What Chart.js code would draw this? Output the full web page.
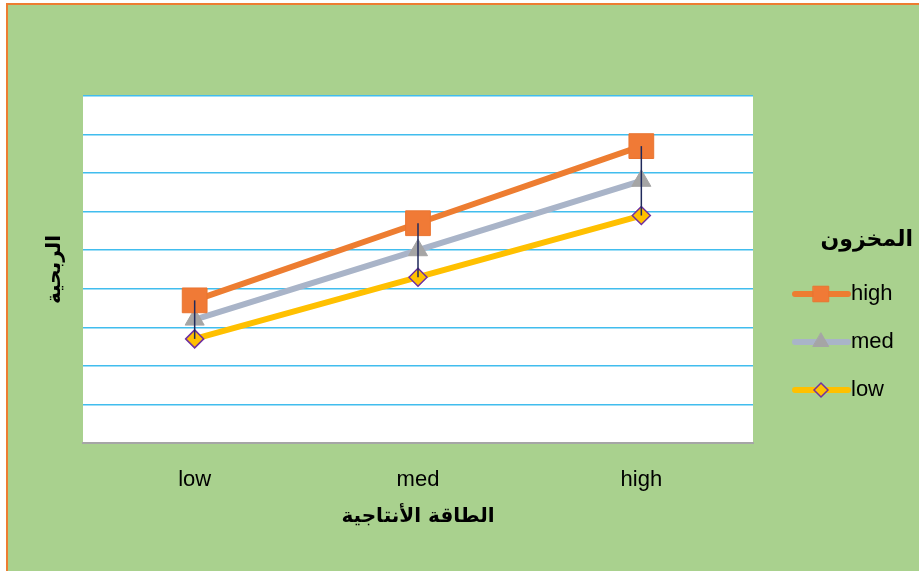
<!DOCTYPE html>
<html>
<head>
<meta charset="utf-8">
<script src="https://cdn.jsdelivr.net/npm/chart.js@4"></script>
<style>
  body { margin: 0; width: 919px; height: 571px; overflow: hidden; position: relative; background: #fff; }
  #frame { position: absolute; left: 6px; top: 3px; right: 0; bottom: 0; background: #a9d18e;
           border-top: 2px solid #ed7d31; border-left: 2px solid #ed7d31; }
  #chart { position: absolute; left: 0; top: 0; }
</style>
</head>
<body>
<div id="frame"></div>
<canvas id="chart" width="919" height="571"></canvas>
<script>
// Data
const categories = ["low", "med", "high"]
const seriesNames = ["high", "med", "low"]
const highValues = [3.7, 5.7, 7.7]
const medValues = [3.2, 5.0, 6.8]
const lowValues = [2.7, 4.3, 5.9]
const yMin = 0
const yMax = 9
const yStep = 1

const xTitle = "الطاقة الأنتاجية"
const yTitle = "الربحية"
const legendTitle = "المخزون"

const arabicFont = "'DejaVu Sans', sans-serif"
const latinFont = "'Liberation Sans', Arial, sans-serif"

// white plot area
const plotBackground = {
  id: "plotBackground",
  beforeDraw(chart) {
    const { ctx, chartArea: a } = chart
    ctx.save()
    ctx.fillStyle = "#ffffff"
    ctx.fillRect(a.left, a.top, a.right - a.left, a.bottom - a.top)
    ctx.restore()
  },
}

// high-low lines between the top and bottom series
const hiLowLines = {
  id: "hiLowLines",
  afterDatasetsDraw(chart) {
    const ctx = chart.ctx
    const top = chart.getDatasetMeta(0).data
    const bottom = chart.getDatasetMeta(2).data
    ctx.save()
    ctx.strokeStyle = "#1f2a5c"
    ctx.lineWidth = 1.5
    top.forEach((p, i) => {
      ctx.beginPath()
      ctx.moveTo(p.x, p.y)
      ctx.lineTo(bottom[i].x, bottom[i].y)
      ctx.stroke()
    })
    ctx.restore()
  },
}

// legend on the right: line + marker + label
const sideLegend = {
  id: "sideLegend",
  afterDraw(chart) {
    const ctx = chart.ctx
    ctx.save()
    ctx.fillStyle = "#000"
    ctx.font = "bold 22px " + arabicFont
    ctx.textAlign = "right"
    ctx.textBaseline = "middle"
    ctx.fillText(legendTitle, 913, 240)

    const rows = [294, 342, 390]
    const sizes = [11, 9, 7]
    chart.data.datasets.forEach((ds, i) => {
      const y = rows[i]
      ctx.strokeStyle = ds.borderColor
      ctx.lineWidth = 6
      ctx.lineCap = "round"
      ctx.beginPath()
      ctx.moveTo(795, y)
      ctx.lineTo(848, y)
      ctx.stroke()
      ctx.fillStyle = ds.pointBackgroundColor
      ctx.strokeStyle = ds.pointBorderColor
      ctx.lineWidth = ds.pointBorderWidth
      Chart.helpers.drawPoint(ctx, { pointStyle: ds.pointStyle, radius: sizes[i], rotation: 0, borderWidth: ds.pointBorderWidth }, 821, y)
      ctx.fillStyle = "#000"
      ctx.font = "22px " + latinFont
      ctx.textAlign = "left"
      ctx.fillText(ds.label, 851, y)
    })
    ctx.restore()
  },
}

const ctx = document.getElementById("chart").getContext("2d")

new Chart(ctx, {
  type: "line",
  data: {
    labels: categories,
    datasets: [
      {
        label: seriesNames[0],
        data: highValues,
        borderColor: "#ed7d31",
        borderWidth: 6,
        pointStyle: "rect",
        pointRadius: 17.5,
        pointBackgroundColor: "#f07a36",
        pointBorderColor: "#e97430",
        pointBorderWidth: 1,
      },
      {
        label: seriesNames[1],
        data: medValues,
        borderColor: "#a9b4c8",
        borderWidth: 6,
        pointStyle: "triangle",
        pointRadius: 11,
        pointBackgroundColor: "#a5a5a5",
        pointBorderColor: "#a5a5a5",
        pointBorderWidth: 1,
      },
      {
        label: seriesNames[2],
        data: lowValues,
        borderColor: "#ffc000",
        borderWidth: 6,
        pointStyle: "rectRot",
        pointRadius: 9,
        pointBackgroundColor: "#ffc000",
        pointBorderColor: "#7030a0",
        pointBorderWidth: 1.5,
      },
    ],
  },
  options: {
    responsive: false,
    animation: false,
    layout: { padding: { left: 0, top: 96, right: 166, bottom: 0 } },
    plugins: {
      legend: { display: false },
      tooltip: { enabled: false },
    },
    scales: {
      x: {
        offset: true,
        afterFit: (s) => { s.height = 128 },
        grid: { display: false, drawTicks: false },
        border: { color: "#a6a6a6", width: 2 },
        ticks: { color: "#000", padding: 24, font: { family: latinFont, size: 22 } },
        title: {
          display: true,
          text: xTitle,
          color: "#000",
          font: { family: arabicFont, size: 20, weight: "bold" },
          padding: { top: 0, bottom: 42 },
        },
      },
      y: {
        min: yMin,
        max: yMax,
        afterFit: (s) => { s.width = 83 },
        ticks: { display: false, stepSize: yStep },
        grid: {
          drawTicks: false,
          lineWidth: 1.5,
          color: (c) => (c.tick && c.tick.value === yMin ? "rgba(0,0,0,0)" : "#41bdee"),
        },
        border: { display: false },
        title: {
          display: true,
          text: yTitle,
          color: "#000",
          font: { family: arabicFont, size: 20, weight: "bold" },
          padding: { top: 43, bottom: 0 },
        },
      },
    },
  },
  plugins: [plotBackground, hiLowLines, sideLegend],
})
</script>
</body>
</html>
